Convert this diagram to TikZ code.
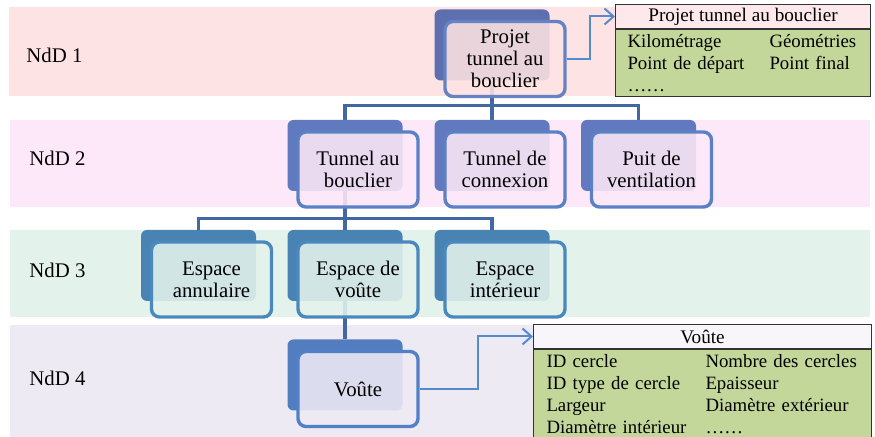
\documentclass[tikz,border=0pt]{standalone}
\usepackage{fontspec}
\setmainfont{Liberation Serif}
\usetikzlibrary{arrows.meta}
\pgfdeclarelayer{background}
\pgfsetlayers{background,main}

\definecolor{band1}{RGB}{253,227,227}
\definecolor{band2}{RGB}{252,232,248}
\definecolor{band3}{RGB}{227,243,235}
\definecolor{band4}{RGB}{238,234,244}
\definecolor{back1}{RGB}{94,111,175}
\definecolor{back2}{RGB}{97,121,190}
\definecolor{back3}{RGB}{72,131,180}
\definecolor{back4}{RGB}{82,126,192}
\definecolor{edge1}{RGB}{100,130,196}
\definecolor{edge2}{RGB}{92,128,196}
\definecolor{edge3}{RGB}{74,136,190}
\definecolor{edge4}{RGB}{82,128,200}
\definecolor{treeline}{RGB}{66,104,164}
\definecolor{arrowline}{RGB}{86,138,206}
\definecolor{attrgreen}{RGB}{196,215,155}
\definecolor{attrpink}{RGB}{253,233,236}
\definecolor{attrwhite}{RGB}{248,246,250}

\tikzset{
  backbox/.style={rectangle,rounded corners=3pt,minimum width=57.5pt,minimum height=35.5pt,inner sep=0pt},
  frontbox/.style={rectangle,rounded corners=4pt,line width=1.7pt,minimum width=60pt,minimum height=37.5pt,
    inner sep=2pt,align=center,font=\fontsize{10.4}{11}\selectfont,fill opacity=0.88,text opacity=1},
  tree/.style={line width=1.6pt,draw=treeline},
  link/.style={line width=1pt,draw=arrowline,-{Straight Barb[length=4.5pt,width=8pt]}},
  level/.style={anchor=west,inner sep=0pt,font=\fontsize{10.4}{12}\selectfont},
  attrhead/.style={draw=black!80,line width=0.5pt,inner sep=0pt,minimum height=12pt,font=\fontsize{9.6}{11}\selectfont},
  attrbody/.style={draw=black!80,line width=0.5pt,fill=attrgreen,inner ysep=0pt,align=left,font=\fontsize{9.4}{11}\selectfont}
}

\begin{document}
\begin{tikzpicture}[x=0.5pt,y=-0.5pt]
      \useasboundingbox (0,0) rectangle (875,437);

      % level labels
      \node[level] (ndd1) at (26,55) {NdD 1};
      \node[level] (ndd2) at (29,158) {NdD 2};
      \node[level] (ndd3) at (29,270) {NdD 3};
      \node[level] (ndd4) at (29,378) {NdD 4};

      % level 1
      \node[backbox,fill=back1] (projet-b) at (492,45) {};
      \node[frontbox,draw=edge1,fill=band1] (projet) at (505,59) {Projet\\tunnel au\\bouclier};

      % level 2
      \node[backbox,fill=back2] (tab-b) at (345,155.5) {};
      \node[frontbox,draw=edge2,fill=band2] (tab) at (358,169.5) {Tunnel au\\bouclier};
      \node[backbox,fill=back2] (tcx-b) at (492,155.5) {};
      \node[frontbox,draw=edge2,fill=band2] (tcx) at (505,169.5) {Tunnel de\\connexion};
      \node[backbox,fill=back2] (puit-b) at (638.5,155.5) {};
      \node[frontbox,draw=edge2,fill=band2] (puit) at (651.5,169.5) {Puit de\\ventilation};

      % level 3
      \node[backbox,fill=back3] (ann-b) at (198.5,265.5) {};
      \node[frontbox,draw=edge3,fill=band3] (ann) at (211.5,279.5) {Espace\\annulaire};
      \node[backbox,fill=back3] (esv-b) at (345,265.5) {};
      \node[frontbox,draw=edge3,fill=band3] (esv) at (358,279.5) {Espace de\\voûte};
      \node[backbox,fill=back3] (esi-b) at (492,265.5) {};
      \node[frontbox,draw=edge3,fill=band3] (esi) at (505,279.5) {Espace\\intérieur};

      % level 4
      \node[backbox,fill=back4] (vou-b) at (345,375) {};
      \node[frontbox,draw=edge4,fill=band4] (vou) at (358,389) {Voûte};

      % attribute tables
      \node[attrhead,fill=attrpink,minimum width=127.5pt,anchor=north west] (pattr-h) at (615,4) {Projet tunnel au bouclier};
      \node[attrbody,text width=115.5pt,inner xsep=6pt,minimum height=33.5pt,anchor=north] (pattr) at (pattr-h.south)
        {\makebox[71pt][l]{Kilométrage}Géométries\\
         \makebox[71pt][l]{Point de départ}Point final\\
         ……};

      \node[attrhead,fill=attrwhite,minimum width=169pt,anchor=north west] (vattr-h) at (533,324) {Voûte};
      \node[attrbody,text width=156pt,inner xsep=6.5pt,minimum height=44.5pt,anchor=north] (vattr) at (vattr-h.south)
        {\makebox[79.5pt][l]{ID cercle}Nombre des cercles\\
         \makebox[79.5pt][l]{ID type de cercle}Epaisseur\\
         \makebox[79.5pt][l]{Largeur}Diamètre extérieur\\
         \makebox[79.5pt][l]{Diamètre intérieur}……};

      \draw[link] (projet.east) -- ++(23,0) |- (pattr-h.west);
      \draw[link] (vou.east) -- ++(58,0) |- (vattr-h.west);

      \begin{pgfonlayer}{background}
        \fill[band1] (9,7) rectangle (870,96);
        \fill[band2] (10,120) rectangle (870,207);
        \fill[band3] (10,230) rectangle (870,317);
        \fill[band4] (10,325) rectangle (870,437);

        \draw[tree] (projet-b.south) -- ++(0,25) coordinate (bus1);
        \draw[tree] (bus1) -| (tab-b.north);
        \draw[tree] (bus1) -- (tcx-b.north);
        \draw[tree] (bus1) -| (puit-b.north);

        \draw[tree] (tab-b.south) -- ++(0,27) coordinate (bus2);
        \draw[tree] (bus2) -| (ann-b.north);
        \draw[tree] (bus2) -- (esv-b.north);
        \draw[tree] (bus2) -| (esi-b.north);

        \draw[tree] (esv-b.south) -- (vou-b.north);
      \end{pgfonlayer}
    \end{tikzpicture}
\end{document}
